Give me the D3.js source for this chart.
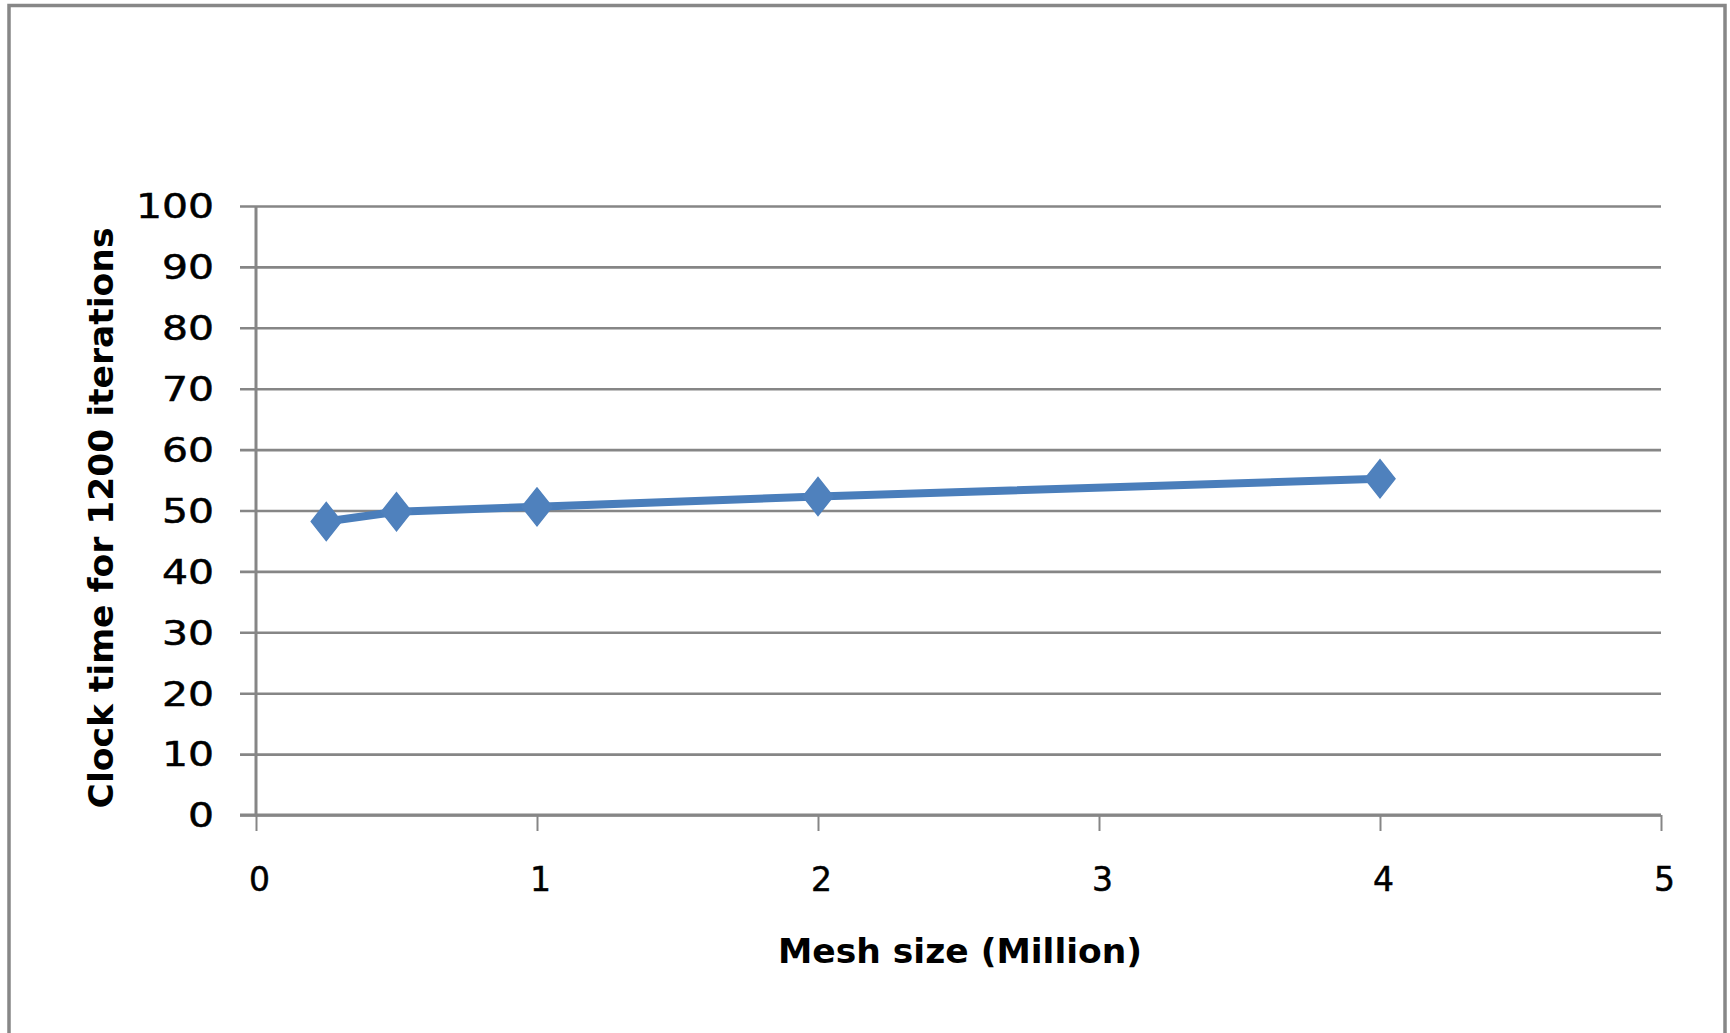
<!DOCTYPE html>
<html>
<head>
<meta charset="utf-8">
<script src="https://cdn.jsdelivr.net/npm/d3@7"></script>
<style>
  html, body { margin: 0; padding: 0; background: #ffffff; }
  svg { display: block; }
</style>
</head>
<body>
<svg id="chart" width="1730" height="1033"></svg>
<script>
// Run time measurements
const meshSizes = [0.25, 0.5, 1, 2, 4];           // million cells
const clockTimes = [48.2, 49.8, 50.6, 52.3, 55.2]; // time for 1200 iterations
const xTicks = [0, 1, 2, 3, 4, 5];
const yTicks = [0, 10, 20, 30, 40, 50, 60, 70, 80, 90, 100];
const xTitle = "Mesh size (Million)";
const yTitle = "Clock time for 1200 iterations";

const svg = d3.select("#chart");
const plot = { left: 256, right: 1661, top: 206, bottom: 815 };
const gridColor = "#868686";
const lineColor = "#4a7ebb";
const markerColor = "#4f81bd";
const font = "'DejaVu Sans', sans-serif";

// Outer chart frame (bottom edge falls outside the view)
svg.append("rect")
  .attr("x", 9).attr("y", 5.5)
  .attr("width", 1716).attr("height", 1060)
  .attr("fill", "#ffffff")
  .attr("stroke", "#878787").attr("stroke-width", 3.5);

const x = d3.scaleLinear().domain([0, 5]).range([plot.left, plot.right]);
const y = d3.scaleLinear().domain([0, 100]).range([plot.bottom, plot.top]);

// Horizontal gridlines, with outward ticks on the left
const yAxis = d3.axisLeft(y)
  .tickValues(yTicks)
  .tickSize(-(plot.right - plot.left))
  .tickSizeOuter(0)
  .tickFormat(d3.format("d"));

const gy = svg.append("g")
  .attr("transform", `translate(${plot.left},0)`)
  .call(yAxis);
gy.select(".domain").remove();
gy.selectAll(".tick line")
  .attr("x1", -16)
  .attr("stroke", gridColor).attr("stroke-width", 2.6);
gy.selectAll(".tick text")
  .attr("x", 0)
  .attr("font-family", font)
  .attr("font-size", 33)
  .attr("fill", "#000")
  .attr("stroke", "#000").attr("stroke-width", 0.5)
  .attr("dy", "0.36em")
  // widened digits, right edge kept at a fixed gap from the axis
  .attr("transform", "translate(-42,0) scale(1.24,1)");

// Vertical axis line
svg.append("line")
  .attr("x1", plot.left).attr("x2", plot.left)
  .attr("y1", plot.top).attr("y2", plot.bottom + 1.5)
  .attr("stroke", gridColor).attr("stroke-width", 3);

// Horizontal axis with downward ticks
const xAxis = d3.axisBottom(x)
  .tickValues(xTicks)
  .tickSize(16)
  .tickSizeOuter(0)
  .tickPadding(37)
  .tickFormat(d3.format("d"));

const gx = svg.append("g")
  .attr("transform", `translate(0,${plot.bottom})`)
  .call(xAxis);
gx.select(".domain")
  .attr("d", `M${plot.left - 16},0H${plot.right}`)
  .attr("stroke", gridColor).attr("stroke-width", 3.2);
gx.selectAll(".tick line")
  .attr("stroke", gridColor).attr("stroke-width", 2);
gx.selectAll(".tick text")
  .attr("font-family", font)
  .attr("font-size", 33)
  .attr("fill", "#000")
  .attr("stroke", "#000").attr("stroke-width", 0.5)
  .attr("transform", "translate(3,0)");

// Series line
const line = d3.line()
  .x((d, i) => x(meshSizes[i]))
  .y(d => y(d));

svg.append("path")
  .datum(clockTimes)
  .attr("d", line)
  .attr("fill", "none")
  .attr("stroke", lineColor)
  .attr("stroke-width", 8)
  .attr("stroke-linejoin", "round");

// Diamond markers
const hw = 15, hh = 19;
svg.append("g")
  .selectAll("path")
  .data(clockTimes)
  .join("path")
  .attr("d", (d, i) => {
    const cx = x(meshSizes[i]), cy = y(d);
    return `M${cx},${cy - hh}L${cx + hw},${cy}L${cx},${cy + hh}L${cx - hw},${cy}Z`;
  })
  .attr("fill", markerColor)
  .attr("stroke", markerColor)
  .attr("stroke-width", 1.5);

// Axis titles
svg.append("text")
  .attr("x", 960).attr("y", 951)
  .attr("text-anchor", "middle")
  .attr("dominant-baseline", "central")
  .attr("font-family", font)
  .attr("font-weight", "bold")
  .attr("font-size", 34.5)
  .attr("fill", "#000")
  .text(xTitle);

svg.append("text")
  .attr("transform", "translate(101,518) rotate(-90)")
  .attr("text-anchor", "middle")
  .attr("dominant-baseline", "central")
  .attr("font-family", font)
  .attr("font-weight", "bold")
  .attr("font-size", 34.5)
  .attr("fill", "#000")
  .text(yTitle);
</script>
</body>
</html>
